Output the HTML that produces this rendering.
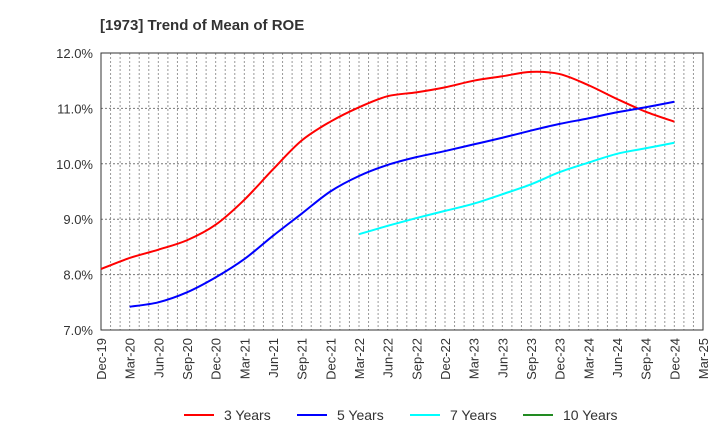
<!DOCTYPE html>
<html><head><meta charset="utf-8"><style>
body{margin:0;background:#fff;font-family:"Liberation Sans",sans-serif}
svg{display:block}
</style></head><body>
<svg id="chart" width="720" height="440" xmlns="http://www.w3.org/2000/svg">
<text x="100" y="30" font-size="15" font-weight="bold" fill="#333">[1973]  Trend of Mean of ROE</text>
<g id="grid"></g>
<g id="axes"></g>
<g id="series"></g>
<g id="legend"></g>
</svg>
<script>
const xLabels=["Dec-19","Mar-20","Jun-20","Sep-20","Dec-20","Mar-21","Jun-21","Sep-21","Dec-21","Mar-22","Jun-22","Sep-22","Dec-22","Mar-23","Jun-23","Sep-23","Dec-23","Mar-24","Jun-24","Sep-24","Dec-24","Mar-25"];
const yTicks=[7,8,9,10,11,12];
const y3=[8.10,8.30,8.45,8.62,8.90,9.35,9.90,10.42,10.76,11.02,11.22,11.29,11.38,11.50,11.58,11.66,11.62,11.42,11.17,10.94,10.76];
const y5=[null,7.42,7.50,7.68,7.95,8.28,8.70,9.10,9.50,9.78,9.98,10.12,10.23,10.35,10.47,10.60,10.72,10.82,10.93,11.02,11.12];
const y7=[null,null,null,null,null,null,null,null,null,8.73,8.88,9.02,9.15,9.28,9.45,9.63,9.85,10.02,10.18,10.28,10.38];
const y10=[];
const seriesNames=["3 Years","5 Years","7 Years","10 Years"];
const colors=["#ff0000","#0000ff","#00ffff","#228b22"];
const L=101,R=703,T=53,B=330;
const NS="http://www.w3.org/2000/svg";
const xq=i=>L+(R-L)*i/(xLabels.length-1);
const yv=v=>B-(v-7)/(12-7)*(B-T);
function mk(tag,attrs,parent){const e=document.createElementNS(NS,tag);for(const k in attrs)e.setAttribute(k,attrs[k]);parent.appendChild(e);return e;}
const grid=document.getElementById('grid'),axes=document.getElementById('axes'),ser=document.getElementById('series'),leg=document.getElementById('legend');
const months=(xLabels.length-1)*3;
for(let m=1;m<months;m++){const x=L+(R-L)*m/months;
 const g=mk('line',{x1:x,x2:x,y1:T,y2:B,stroke:'#999','stroke-width':1,'stroke-dasharray':'2,2'},grid);
 }
yTicks.forEach(v=>{const y=yv(v);
 if(v>7&&v<12){const g=mk('line',{x1:L,x2:R,y1:y,y2:y,stroke:'#777','stroke-width':1,'stroke-dasharray':'2,2'},grid);
 }
 const t=mk('text',{x:L-8,y:y+5,'font-size':13,'text-anchor':'end',fill:'#333'},axes);t.textContent=v.toFixed(1)+'%';
 });
const fr=mk('rect',{x:L,y:T,width:R-L,height:B-T,fill:'none',stroke:'#333','stroke-width':1},axes);

xLabels.forEach((lb,i)=>{const x=xq(i);
 const t=mk('text',{x:0,y:0,'font-size':13,'text-anchor':'end',fill:'#333',transform:`translate(${x+5},${B+8}) rotate(-90)`},axes);t.textContent=lb;
 });
function path(vals){const p=[];vals.forEach((v,i)=>{if(v!=null)p.push([xq(i),yv(v)]);});
 if(p.length<2)return '';let d=`M${p[0][0]},${p[0][1]}`;
 for(let i=0;i<p.length-1;i++){const p0=p[i-1]||p[i],p1=p[i],p2=p[i+1],p3=p[i+2]||p2;
  d+=` C${p1[0]+(p2[0]-p0[0])/6},${p1[1]+(p2[1]-p0[1])/6} ${p2[0]-(p3[0]-p1[0])/6},${p2[1]-(p3[1]-p1[1])/6} ${p2[0]},${p2[1]}`;}
 return d;}
[y3,y5,y7,y10].forEach((vals,k)=>{const d=path(vals);if(!d)return;
 const e=mk('path',{d:d,fill:'none',stroke:colors[k],'stroke-width':2},ser);
 });
const lx=[184,297,410,523];
seriesNames.forEach((n,k)=>{const g=mk('g',{},leg);
 
 mk('line',{x1:lx[k],x2:lx[k]+30,y1:415,y2:415,stroke:colors[k],'stroke-width':2},g);
 const t=mk('text',{x:lx[k]+40,y:420,'font-size':14,fill:'#333'},g);t.textContent=n;});
</script>
</body></html>
